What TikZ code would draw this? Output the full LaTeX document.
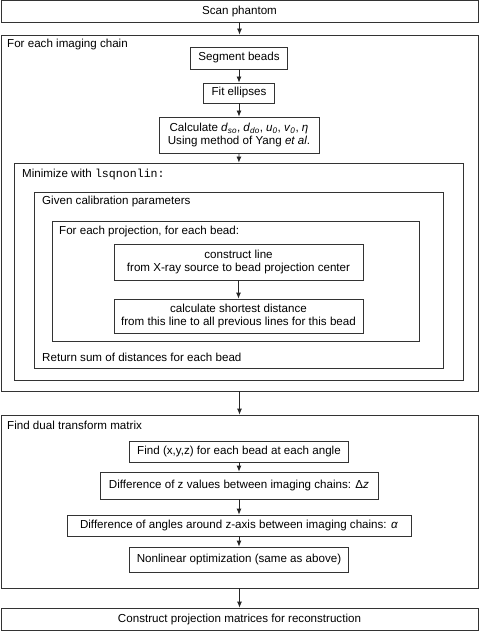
\documentclass[tikz,border=0pt]{standalone}
\usepackage{fontspec}
\setmainfont{Liberation Sans}
\setmonofont{Liberation Mono}
\usetikzlibrary{arrows.meta}

\begin{document}
\begin{tikzpicture}[x=1pt, y=-1pt,
    font=\fontsize{11.6}{13.5}\selectfont,
    box/.style={draw=black!80, line width=0.8pt, inner sep=0pt, align=center},
    label text/.style={anchor=west, inner sep=0pt},
    arr/.style={draw=black!85, line width=0.8pt, -{Latex[length=6pt, width=5pt]}}]
        \useasboundingbox (0,0) rectangle (479,631);
        % outer frames
        \node[box, minimum width=477pt, minimum height=21.5pt] (scan) at (239.5,11.25) {Scan phantom};
        \node[box, minimum width=477pt, minimum height=356pt] (chain) at (239.5,213) {};
        \node[label text] (chainlbl) at (7,45) {For each imaging chain};
        \node[box, minimum width=97pt, minimum height=22pt] (seg) at (239,58) {Segment beads};
        \node[box, minimum width=71pt, minimum height=20pt] (fit) at (239,93) {Fit ellipses};
        \node[box, minimum width=160pt, minimum height=36pt] (calc) at (239,135)
            {Calculate \textit{d}\textsubscript{\textit{so}}, \textit{d}\textsubscript{\textit{do}}, \textit{u}\textsubscript{\textit{0}}, \textit{v}\textsubscript{\textit{0}}, \textit{η}\\Using method of Yang \textit{et al}.};
        \node[box, minimum width=449pt, minimum height=217pt] (minz) at (238.5,271.5) {};
        \node[label text] (minzlbl) at (22,175) {Minimize with \texttt{lsqnonlin:}};
        \node[box, minimum width=409pt, minimum height=176pt] (given) at (238.5,280) {};
        \node[label text] (givenlbl) at (42,202) {Given calibration parameters};
        \node[box, minimum width=367pt, minimum height=120pt] (proj) at (235.5,281) {};
        \node[label text] (projlbl) at (59,231) {For each projection, for each bead:};
        \node[box, minimum width=249pt, minimum height=36pt] (cline) at (238.5,262)
            {construct line\\from X-ray source to bead projection center};
        \node[box, minimum width=249pt, minimum height=34pt] (short) at (238.5,316)
            {calculate shortest distance\\from this line to all previous lines for this bead};
        \node[label text] (sumlbl) at (42,357) {Return sum of distances for each bead};
        \node[box, minimum width=477pt, minimum height=173pt] (dual) at (239.5,501.5) {};
        \node[label text] (duallbl) at (7,425) {Find dual transform matrix};
        \node[box, minimum width=219pt, minimum height=21pt] (xyz) at (239,451.5) {Find (x,y,z) for each bead at each angle};
        \node[box, minimum width=278pt, minimum height=27pt] (dz) at (239,485.5) {Difference of z values between imaging chains: Δ\textit{z}};
        \node[box, minimum width=344pt, minimum height=21pt] (dang) at (239,525.5) {Difference of angles around z-axis between imaging chains: \textit{α}};
        \node[box, minimum width=219pt, minimum height=25pt] (nlin) at (239,559.5) {Nonlinear optimization (same as above)};
        \node[box, minimum width=477pt, minimum height=22pt] (recon) at (239.5,619) {Construct projection matrices for reconstruction};
        % connectors
        \draw[arr] (scan) -- (chain);
        \draw[arr] (seg) -- (fit);
        \draw[arr] (fit) -- (calc);
        \draw[arr] (calc) -- (minz);
        \draw[arr] (cline) -- (short);
        \draw[arr] (chain) -- (dual);
        \draw[arr] (xyz) -- (dz);
        \draw[arr] (dz) -- (dang);
        \draw[arr] (dang) -- (nlin);
        \draw[arr] (dual) -- (recon);
    \end{tikzpicture}
\end{document}
